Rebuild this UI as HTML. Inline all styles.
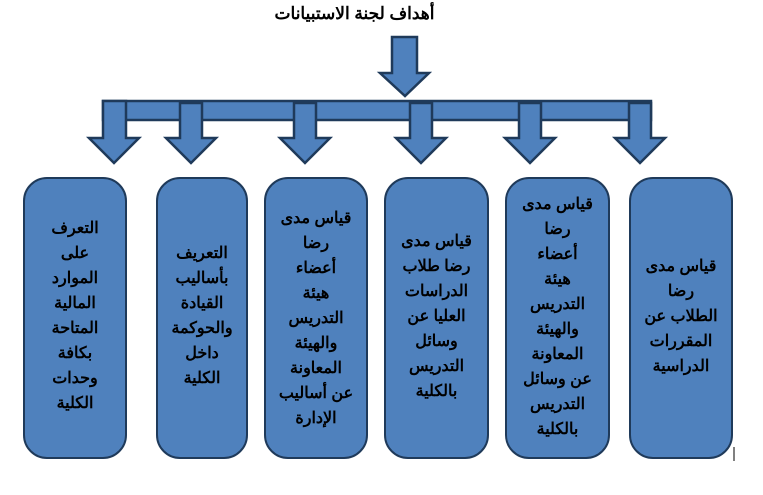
<!DOCTYPE html>
<html><head><meta charset="utf-8"><style>
body{margin:0;width:763px;height:495px;background:#fff;position:relative;overflow:hidden;font-family:"Liberation Sans","Noto Sans CJK SC",sans-serif;}
.b{position:absolute;top:177px;height:282px;background:#4f81bd;border:2.5px solid #1f3a5a;border-radius:24px;box-sizing:border-box;direction:rtl;text-align:center;font-weight:bold;font-size:16px;line-height:25px;color:#000;}
.t{position:absolute;left:0;width:763px;top:4px;text-align:center;font-weight:bold;font-size:17px;direction:rtl;}
</style></head><body>
<div class="t" style="left:-27px">أهداف لجنة الاستبيانات</div>
<svg width="763" height="495" style="position:absolute;left:0;top:0">
<g fill="#4f81bd" stroke="#1f3a5a" stroke-width="2.5" stroke-linejoin="miter">
<polygon points="392,37 417,37 417,73 429,73 405,96 380,73 392,73"/>
<rect x="103" y="101" width="548" height="19"/>
<polygon points="103,101 126,101 126,138 139,138 114,163 89,138 103,138"/>
<polygon points="180,103 202,103 202,138 216,138 191,163 166,138 180,138"/>
<polygon points="294,103 316,103 316,138 330,138 305,163 280,138 294,138"/>
<polygon points="410,103 432,103 432,138 446,138 421,163 396,138 410,138"/>
<polygon points="519,103 541,103 541,138 555,138 530,163 505,138 519,138"/>
<polygon points="629,103 651,103 651,138 665,138 640,163 615,138 629,138"/>
</g>
<line x1="734" y1="447" x2="734" y2="461" stroke="#000" stroke-width="1"/>
</svg>
<div class="b" style="left:23px;width:104px;padding-top:37px">التعرف<br>على<br>الموارد<br>المالية<br>المتاحة<br>بكافة<br>وحدات<br>الكلية</div>
<div class="b" style="left:156px;width:92px;padding-top:62px">التعريف<br>بأساليب<br>القيادة<br>والحوكمة<br>داخل<br>الكلية</div>
<div class="b" style="left:264px;width:104px;padding-top:27px">قياس مدى<br>رضا<br>أعضاء<br>هيئة<br>التدريس<br>والهيئة<br>المعاونة<br>عن أساليب<br>الإدارة</div>
<div class="b" style="left:384px;width:105px;padding-top:50px">قياس مدى<br>رضا طلاب<br>الدراسات<br>العليا عن<br>وسائل<br>التدريس<br>بالكلية</div>
<div class="b" style="left:505px;width:105px;padding-top:13px">قياس مدى<br>رضا<br>أعضاء<br>هيئة<br>التدريس<br>والهيئة<br>المعاونة<br>عن وسائل<br>التدريس<br>بالكلية</div>
<div class="b" style="left:629px;width:104px;padding-top:75px">قياس مدى<br>رضا<br>الطلاب عن<br>المقررات<br>الدراسية</div>
</body></html>
